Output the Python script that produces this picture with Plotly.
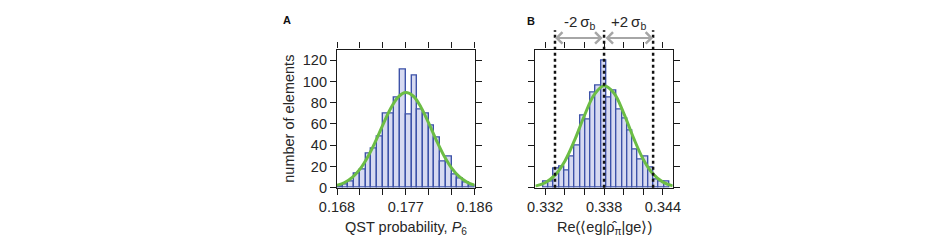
import numpy as np
import plotly.graph_objects as go

# ---------------- data ----------------
# Panel A: histogram of QST probability P6
a_bin_start = 0.168
a_bin_width = 0.00075
a_counts = [1, 3, 6, 13, 17, 32, 37, 48, 70, 70, 85, 111, 69, 106, 74, 70, 59, 47, 25, 29, 12, 9, 5, 2]
a_fit_x = [0.168, 0.169, 0.170, 0.171, 0.172, 0.173, 0.174, 0.175, 0.176, 0.177,
           0.178, 0.179, 0.180, 0.181, 0.182, 0.183, 0.184, 0.185, 0.186]
a_fit_y = [2.3, 5.0, 9.8, 17.5, 28.8, 43.1, 59.2, 74.3, 85.3, 89.6,
           86.1, 75.6, 60.8, 44.7, 30.1, 18.5, 10.4, 5.4, 2.5]
a_xticks = [0.168, 0.171, 0.174, 0.177, 0.180, 0.183, 0.186]
a_xticklabels = ["0.168", "", "", "0.177", "", "", "0.186"]

# Panel B: histogram of Re(<eg|rho_pi|ge>)
b_bin_start = 0.3318
b_bin_width = 0.000535
b_counts = [6, 6, 18, 20, 16, 29, 40, 68, 64, 90, 96, 120, 85, 91, 74, 65, 54, 36, 27, 29, 19, 8, 6, 6]
b_fit_x = [0.331, 0.332, 0.333, 0.334, 0.335, 0.336, 0.337, 0.338,
           0.339, 0.340, 0.341, 0.342, 0.343, 0.344, 0.345]
b_fit_y = [1.6, 4.8, 11.9, 25.0, 44.8, 68.0, 87.7, 96.0,
           89.2, 70.3, 47.0, 26.7, 12.9, 5.3, 1.8]
b_xticks = [0.332, 0.334, 0.336, 0.338, 0.340, 0.342, 0.344]
b_xticklabels = ["0.332", "", "", "0.338", "", "", "0.344"]
b_center = 0.338
b_two_sigma = 0.005

y_ticks = [0, 20, 40, 60, 80, 100, 120]

# ---------------- styling ----------------
FONT = "Liberation Sans, Arial, Helvetica, sans-serif"
BAR_FILL = "#d7daf1"
BAR_LINE = "#3d52a8"
FIT = "#6cbd45"
TXT = "#262626"

W, H = 947, 240
a_dom = [323.3 / W, 466.3 / W]
b_dom = [529.5 / W, 672.3 / W]
y_dom = [(H - 186) / H, (H - 43) / H]

a_centers = a_bin_start + (np.arange(len(a_counts)) + 0.5) * a_bin_width
b_centers = b_bin_start + (np.arange(len(b_counts)) + 0.5) * b_bin_width

fig = go.Figure()
fig.add_trace(go.Bar(x=a_centers, y=a_counts, width=a_bin_width,
                     marker=dict(color=BAR_FILL, line=dict(color=BAR_LINE, width=1.4)),
                     xaxis="x", yaxis="y"))
fig.add_trace(go.Scatter(x=a_fit_x, y=a_fit_y, mode="lines",
                         line=dict(color=FIT, width=3, shape="spline"),
                         xaxis="x", yaxis="y"))
fig.add_trace(go.Bar(x=b_centers, y=b_counts, width=b_bin_width,
                     marker=dict(color=BAR_FILL, line=dict(color=BAR_LINE, width=1.4)),
                     xaxis="x2", yaxis="y2"))
fig.add_trace(go.Scatter(x=b_fit_x, y=b_fit_y, mode="lines",
                         line=dict(color=FIT, width=3, shape="spline"),
                         xaxis="x2", yaxis="y2"))

axis_common = dict(showline=True, linecolor="#1a1a1a", linewidth=1.3, mirror="allticks",
                   ticks="outside", ticklen=6, tickwidth=1.2, tickcolor="#1a1a1a",
                   showgrid=False, zeroline=False,
                   tickfont=dict(family=FONT, size=14.5, color=TXT))

fig.update_layout(
    width=W, height=H, margin=dict(l=0, r=0, t=0, b=0),
    plot_bgcolor="white", paper_bgcolor="white",
    showlegend=False, bargap=0,
    xaxis=dict(domain=a_dom, range=[0.168, 0.186], tickmode="array",
               tickvals=a_xticks, ticktext=a_xticklabels, anchor="y", **axis_common),
    yaxis=dict(domain=y_dom, range=[0, 130], tickmode="array", tickvals=y_ticks,
               anchor="x", **axis_common),
    xaxis2=dict(domain=b_dom, range=[0.331, 0.345], tickmode="array",
                tickvals=b_xticks, ticktext=b_xticklabels, anchor="y2", **axis_common),
    yaxis2=dict(domain=y_dom, range=[0, 130], tickmode="array", tickvals=y_ticks,
                showticklabels=False, anchor="x2", **axis_common),
)

# dotted vertical lines in panel B
for xv in [b_center - b_two_sigma, b_center, b_center + b_two_sigma]:
    fig.add_shape(type="line", xref="x2", yref="paper", x0=xv, x1=xv,
                  y0=y_dom[0], y1=(H - 23) / H, layer="above",
                  line=dict(color="#111111", width=2.5, dash="dot"))

# double arrows
for x_tail, x_head in [(b_center, b_center - b_two_sigma), (b_center, b_center + b_two_sigma)]:
    fig.add_annotation(x=x_head, y=1.084, xref="x2", yref="y2 domain",
                       ax=x_tail, ay=1.084, axref="x2", ayref="y2 domain",
                       text="", showarrow=True, arrowhead=4, startarrowhead=4,
                       arrowside="end+start", arrowsize=1.1, startarrowsize=1.1,
                       arrowwidth=2, arrowcolor="#a6a6a6", standoff=0, startstandoff=0)


def label(x, y, text, size=14.5, xref="paper", angle=0, color=TXT):
    fig.add_annotation(x=x, y=y, xref=xref, yref="paper", text=text, showarrow=False,
                       xanchor="center", yanchor="middle", textangle=angle,
                       font=dict(family=FONT, size=size, color=color))


label(b_center - b_two_sigma / 2, (H - 15) / H, "-2\u2009σ<sub>b</sub>", size=15, xref="x2")
label(b_center + b_two_sigma / 2, (H - 15) / H, "+2\u2009σ<sub>b</sub>", size=15, xref="x2")

# axis titles
label((a_dom[0] + a_dom[1]) / 2, (H - 228) / H, "QST probability, <i>P</i><sub>6</sub>")
label((b_dom[0] + b_dom[1]) / 2, (H - 228) / H,
      "Re(\u27e8eg|\u03c1\u0302<sub>\u03c0</sub>|ge\u27e9)")
label(274 / W, (H - 115) / H, "number of elements", angle=-90)

# panel letters
label(271 / W, (H - 12) / H, "<b>A</b>", size=11, color="#111111")
label(525 / W, (H - 13) / H, "<b>B</b>", size=11, color="#111111")

fig.write_html("out.html")
